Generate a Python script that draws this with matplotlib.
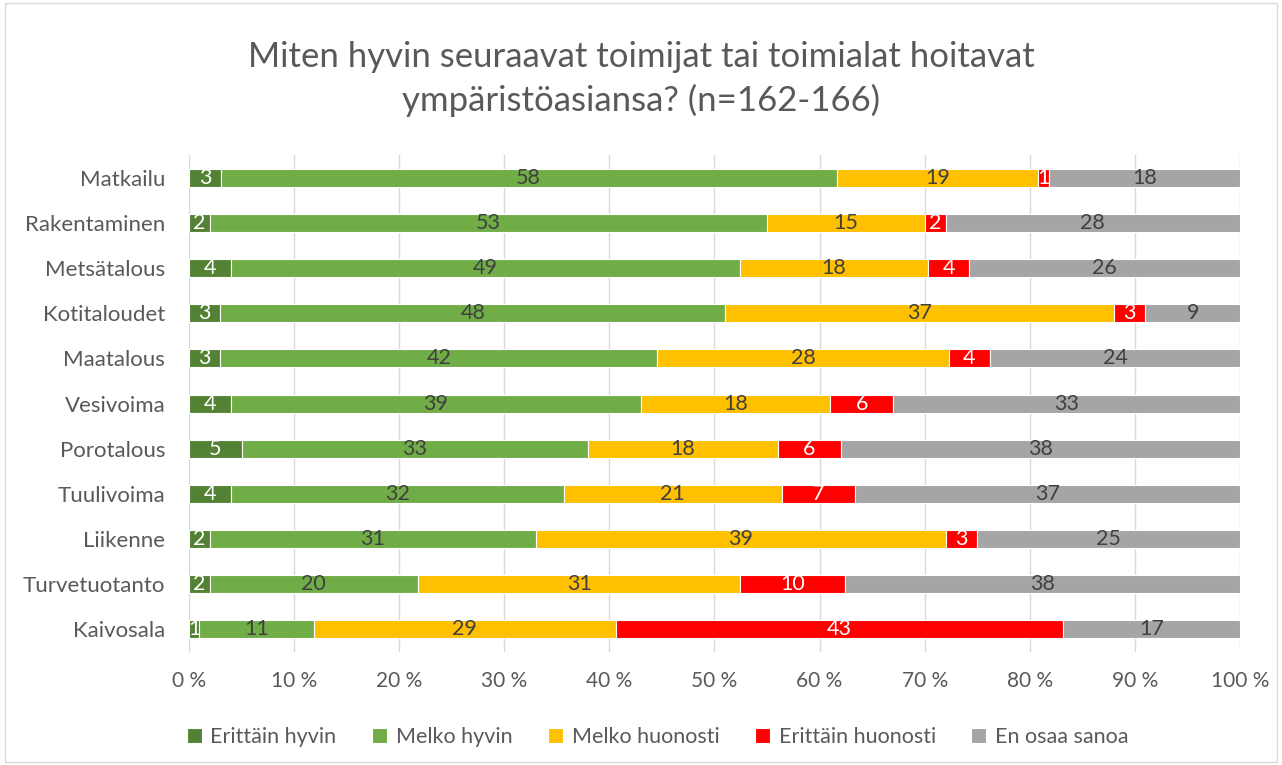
import matplotlib
matplotlib.use("Agg")
import matplotlib.pyplot as plt
import numpy as np
from matplotlib.patches import Rectangle

plt.rcParams['font.family'] = ['Lato', 'DejaVu Sans']

categories = ["Matkailu", "Rakentaminen", "Metsätalous", "Kotitaloudet", "Maatalous",
              "Vesivoima", "Porotalous", "Tuulivoima", "Liikenne", "Turvetuotanto", "Kaivosala"]
series_names = ["Erittäin hyvin", "Melko hyvin", "Melko huonosti", "Erittäin huonosti", "En osaa sanoa"]
erittain_hyvin = [3, 2, 4, 3, 3, 4, 5, 4, 2, 2, 1]
melko_hyvin = [58, 53, 49, 48, 42, 39, 33, 32, 31, 20, 11]
melko_huonosti = [19, 15, 18, 37, 28, 18, 18, 21, 39, 31, 29]
erittain_huonosti = [1, 2, 4, 3, 4, 6, 6, 7, 3, 10, 43]
en_osaa = [18, 28, 26, 9, 24, 33, 38, 37, 25, 38, 17]
tick_labels = ["0 %", "10 %", "20 %", "30 %", "40 %", "50 %", "60 %", "70 %", "80 %", "90 %", "100 %"]

colors = ["#548235", "#70AD47", "#FFC000", "#FF0000", "#A5A5A5"]
label_colors = ["white", "#404040", "#404040", "white", "#404040"]
text_color = "#595959"

data = np.array([erittain_hyvin, melko_hyvin, melko_huonosti, erittain_huonosti, en_osaa], dtype=float)
totals = data.sum(axis=0)
pct = data / totals * 100

fig = plt.figure(figsize=(12.82, 7.65), dpi=100)
fig.patches.append(Rectangle((0.004, 0.004), 0.992, 0.992, transform=fig.transFigure,
                             fill=False, edgecolor="#D9D9D9", linewidth=1))
ax = fig.add_axes([0.1474, 0.148, 0.8198, 0.649])

y = np.arange(len(categories))[::-1]
left = np.zeros(len(categories))
for i in range(5):
    ax.barh(y, pct[i], left=left, height=0.4, color=colors[i], edgecolor="white",
            linewidth=0.8, label=series_names[i], zorder=3)
    for j in range(len(categories)):
        ax.text(left[j] + pct[i][j] / 2, y[j], str(int(data[i][j])), ha="center", va="center",
                color=label_colors[i], fontsize=15.5, zorder=4)
    left += pct[i]

ax.set_xlim(0, 100)
ax.set_ylim(-0.5, len(categories) - 0.5)
ax.set_xticks(np.arange(0, 101, 10))
ax.set_xticklabels(tick_labels)
ax.set_yticks(y)
ax.set_yticklabels(categories)
ax.tick_params(axis="x", length=0, labelsize=15, labelcolor=text_color, pad=14)
ax.tick_params(axis="y", length=0, labelsize=16, labelcolor=text_color, pad=17)
ax.grid(axis="x", color="#D9D9D9", linewidth=1, zorder=0)
for s in ax.spines.values():
    s.set_visible(False)

fig.text(0.5, 0.925, "Miten hyvin seuraavat toimijat tai toimialat hoitavat", ha="center", va="center",
         fontsize=25, color=text_color)
fig.text(0.5, 0.869, "ympäristöasiansa? (n=162-166)", ha="center", va="center",
         fontsize=25, color=text_color)

fig.legend(loc="center", bbox_to_anchor=(0.513, 0.037), ncol=5, frameon=False, fontsize=15.5,
           labelcolor=text_color, handlelength=0.7, handleheight=0.7, handletextpad=0.4,
           columnspacing=1.65)

fig.savefig("out.png", dpi=100)
